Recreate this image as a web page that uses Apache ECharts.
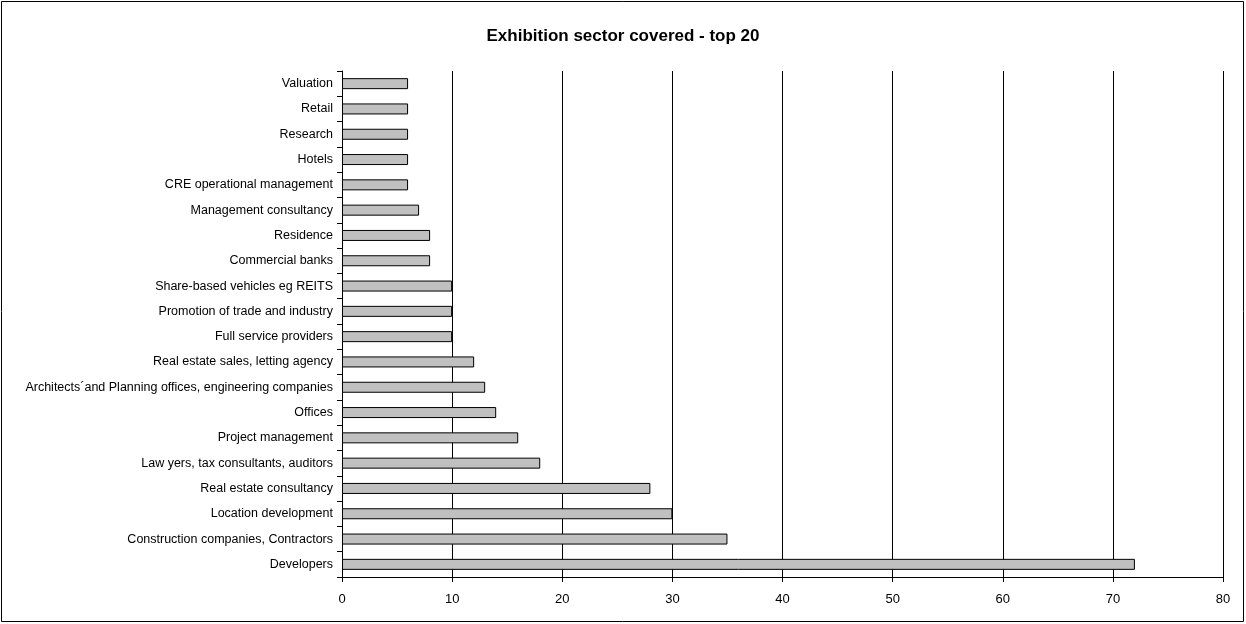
<!DOCTYPE html>
<html><head><meta charset="utf-8">
<script src="https://cdn.jsdelivr.net/npm/echarts@6/dist/echarts.min.js"></script>
<style>html,body{margin:0;padding:0;background:#fff}#c{width:1246px;height:624px}</style>
</head><body><div id="c"></div>
<script>
const titleText = 'Exhibition sector covered - top 20';
const categories = ['Valuation','Retail','Research','Hotels','CRE operational management','Management consultancy','Residence','Commercial banks','Share-based vehicles eg REITS','Promotion of trade and industry','Full service providers','Real estate sales, letting agency','Architects´and Planning offices, engineering companies','Offices','Project management','Law yers, tax consultants, auditors','Real estate consultancy','Location development','Construction companies, Contractors','Developers'];
const values = [6,6,6,6,6,7,8,8,10,10,10,12,13,14,16,18,28,30,35,72];
const xTicks = [0,10,20,30,40,50,60,70,80];

const chart = echarts.init(document.getElementById('c'), null, {renderer:'canvas'});
chart.setOption({
  animation:false,
  backgroundColor:'#fff',
  textStyle:{fontFamily:'Liberation Sans, Arial, sans-serif'},
  title:{text:titleText,left:'center',top:23,textStyle:{fontSize:17,fontWeight:'bold',color:'#000',fontFamily:'Liberation Sans, Arial, sans-serif'}},
  graphic:[{type:'rect',shape:{x:1.5,y:1.5,width:1242,height:620},style:{fill:'none',stroke:'#000',lineWidth:1},silent:true}],
  grid:{left:342,right:23,top:71,bottom:47,containLabel:false},
  xAxis:{type:'value',min:xTicks[0],max:xTicks[xTicks.length-1],interval:10,
    axisLine:{show:true,lineStyle:{color:'#000',width:1}},
    axisTick:{show:true,length:5,lineStyle:{color:'#000'}},
    axisLabel:{color:'#000',fontSize:13,margin:16},
    splitLine:{show:true,lineStyle:{color:'#000',width:1}}},
  yAxis:{type:'category',data:categories,inverse:true,
    axisLine:{show:true,lineStyle:{color:'#000',width:1}},
    axisTick:{show:true,length:5,alignWithLabel:false,lineStyle:{color:'#000'}},
    axisLabel:{color:'#000',fontSize:12.5,margin:9},
    splitLine:{show:false}},
  series:[{type:'bar',data:values,barWidth:11,
    itemStyle:{color:'#c0c0c0',borderColor:'#000',borderWidth:1}}]
});
</script></body></html>
